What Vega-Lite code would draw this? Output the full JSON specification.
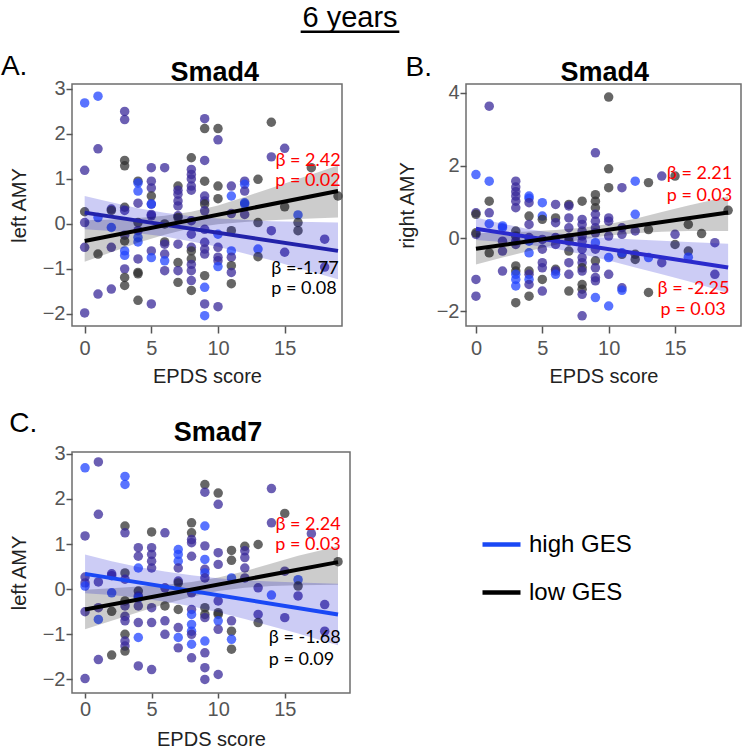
{
"$schema":"https://vega.github.io/schema/vega-lite/v6.json",
"padding":{"left":0,"top":3,"right":0,"bottom":0},
"background":"white",
"config":{"font":"Liberation Sans","view":{"stroke":"#6e6e6e","strokeWidth":1.5},
 "text":{"baseline":"alphabetic"},
 "axis":{"domain":false,"grid":false,"tickColor":"#555555","tickWidth":1.5,"labelFont":"Liberation Sans","labelFontSize":20,"labelColor":"#555555","titleFont":"Liberation Sans","titleFontSize":20,"titleFontWeight":"normal","titleColor":"#222222"}},
"datasets":{
"ann":[
{"p":"A","k":"t1","t":"β = 2.42"},{"p":"A","k":"t2","t":"p = 0.02"},{"p":"A","k":"t3","t":"β =-1.77"},{"p":"A","k":"t4","t":"p = 0.08"},{"p":"A","k":"lab","t":"A."},{"p":"A","k":"head","t":"6 years"},{"p":"A","k":"ttl","t":"Smad4"},
{"p":"B","k":"t1","t":"β = 2.21"},{"p":"B","k":"t2","t":"p = 0.03"},{"p":"B","k":"t3","t":"β = -2.25"},{"p":"B","k":"t4","t":"p = 0.03"},{"p":"B","k":"lab","t":"B."},{"p":"B","k":"ttl","t":"Smad4"},
{"p":"C","k":"t1","t":"β = 2.24"},{"p":"C","k":"t2","t":"p = 0.03"},{"p":"C","k":"t3","t":"β = -1.68"},{"p":"C","k":"t4","t":"p = 0.09"},{"p":"C","k":"lab","t":"C."},{"p":"C","k":"ttl","t":"Smad7"}
],
"pA":[
{"x":0,"y":2.69,"g":"h"},{"x":0,"y":1.19,"g":"b"},{"x":0,"y":0.27,"g":"l"},{"x":0,"y":0.03,"g":"b"},{"x":0,"y":-0.52,"g":"b"},{"x":0,"y":-1.98,"g":"b"},
{"x":1,"y":2.84,"g":"h"},{"x":1,"y":1.67,"g":"b"},{"x":1,"y":0.14,"g":"h"},{"x":1,"y":-0.67,"g":"l"},{"x":1,"y":-1.56,"g":"b"},
{"x":2,"y":0.33,"g":"b"},{"x":2,"y":0.3,"g":"l"},{"x":2,"y":-0.08,"g":"h"},{"x":2,"y":-0.52,"g":"b"},{"x":2,"y":-1.45,"g":"b"},
{"x":3,"y":2.5,"g":"b"},{"x":3,"y":2.32,"g":"b"},{"x":3,"y":1.41,"g":"l"},{"x":3,"y":1.29,"g":"l"},{"x":3,"y":0.37,"g":"l"},{"x":3,"y":0.3,"g":"b"},{"x":3,"y":-0.25,"g":"b"},{"x":3,"y":-0.38,"g":"l"},{"x":3,"y":-0.6,"g":"h"},{"x":3,"y":-0.7,"g":"h"},{"x":3,"y":-1.0,"g":"b"},{"x":3,"y":-1.19,"g":"l"},{"x":3,"y":-1.37,"g":"l"},
{"x":4,"y":0.95,"g":"l"},{"x":4,"y":0.91,"g":"h"},{"x":4,"y":0.73,"g":"h"},{"x":4,"y":0.46,"g":"b"},{"x":4,"y":0.03,"g":"l"},{"x":4,"y":-0.15,"g":"b"},{"x":4,"y":-0.3,"g":"h"},{"x":4,"y":-0.4,"g":"h"},{"x":4,"y":-0.78,"g":"b"},{"x":4,"y":-1.08,"g":"l"},{"x":4,"y":-1.11,"g":"l"},{"x":4,"y":-1.7,"g":"l"},
{"x":5,"y":1.25,"g":"b"},{"x":5,"y":0.95,"g":"b"},{"x":5,"y":0.8,"g":"b"},{"x":5,"y":0.62,"g":"l"},{"x":5,"y":0.44,"g":"b"},{"x":5,"y":0.44,"g":"h"},{"x":5,"y":0.21,"g":"b"},{"x":5,"y":0.18,"g":"b"},{"x":5,"y":-0.6,"g":"b"},{"x":5,"y":-0.75,"g":"h"},{"x":5,"y":-1.78,"g":"b"},
{"x":6,"y":1.25,"g":"b"},{"x":6,"y":0.0,"g":"l"},{"x":6,"y":-0.4,"g":"l"},{"x":6,"y":-0.45,"g":"b"},{"x":6,"y":-0.67,"g":"b"},{"x":6,"y":-0.82,"g":"h"},{"x":6,"y":-1.04,"g":"b"},
{"x":7,"y":0.84,"g":"l"},{"x":7,"y":0.75,"g":"b"},{"x":7,"y":0.66,"g":"b"},{"x":7,"y":0.51,"g":"b"},{"x":7,"y":0.4,"g":"b"},{"x":7,"y":0.18,"g":"b"},{"x":7,"y":0.14,"g":"l"},{"x":7,"y":-0.45,"g":"b"},{"x":7,"y":-0.86,"g":"l"},{"x":7,"y":-1.04,"g":"b"},{"x":7,"y":-1.3,"g":"l"},
{"x":8,"y":1.47,"g":"l"},{"x":8,"y":1.21,"g":"b"},{"x":8,"y":1.1,"g":"b"},{"x":8,"y":1.0,"g":"b"},{"x":8,"y":0.84,"g":"b"},{"x":8,"y":0.75,"g":"b"},{"x":8,"y":0.07,"g":"b"},{"x":8,"y":-0.23,"g":"b"},{"x":8,"y":-0.52,"g":"b"},{"x":8,"y":-0.6,"g":"l"},{"x":8,"y":-0.78,"g":"l"},{"x":8,"y":-0.9,"g":"b"},{"x":8,"y":-1.04,"g":"b"},{"x":8,"y":-1.26,"g":"b"},{"x":8,"y":-1.48,"g":"l"},
{"x":9,"y":2.34,"g":"b"},{"x":9,"y":2.12,"g":"l"},{"x":9,"y":1.41,"g":"b"},{"x":9,"y":0.95,"g":"l"},{"x":9,"y":0.62,"g":"b"},{"x":9,"y":0.51,"g":"b"},{"x":9,"y":0.44,"g":"l"},{"x":9,"y":0.29,"g":"b"},{"x":9,"y":-0.12,"g":"b"},{"x":9,"y":-0.41,"g":"b"},{"x":9,"y":-0.56,"g":"b"},{"x":9,"y":-0.67,"g":"b"},{"x":9,"y":-1.15,"g":"l"},{"x":9,"y":-1.41,"g":"h"},{"x":9,"y":-1.78,"g":"b"},{"x":9,"y":-2.04,"g":"h"},
{"x":10,"y":2.12,"g":"l"},{"x":10,"y":1.87,"g":"b"},{"x":10,"y":0.84,"g":"l"},{"x":10,"y":0.56,"g":"l"},{"x":10,"y":-0.23,"g":"h"},{"x":10,"y":-0.52,"g":"b"},{"x":10,"y":-0.74,"g":"b"},{"x":10,"y":-0.82,"g":"b"},{"x":10,"y":-0.95,"g":"h"},{"x":10,"y":-1.84,"g":"b"},
{"x":11,"y":0.84,"g":"b"},{"x":11,"y":0.62,"g":"h"},{"x":11,"y":0.23,"g":"b"},{"x":11,"y":-0.15,"g":"l"},{"x":11,"y":-0.6,"g":"h"},{"x":11,"y":-0.74,"g":"b"},{"x":11,"y":-0.93,"g":"l"},{"x":11,"y":-1.08,"g":"b"},{"x":11,"y":-1.33,"g":"l"},
{"x":12,"y":0.95,"g":"b"},{"x":12,"y":0.88,"g":"h"},{"x":12,"y":0.73,"g":"b"},{"x":12,"y":0.47,"g":"h"},{"x":12,"y":0.44,"g":"h"},{"x":12,"y":0.21,"g":"b"},
{"x":13,"y":0.99,"g":"l"},{"x":13,"y":0.03,"g":"l"},{"x":13,"y":-0.56,"g":"h"},{"x":13,"y":-0.73,"g":"l"},
{"x":14,"y":2.26,"g":"l"},{"x":14,"y":1.49,"g":"b"},{"x":14,"y":-0.15,"g":"b"},
{"x":15,"y":1.68,"g":"b"},{"x":15,"y":0.38,"g":"l"},{"x":15,"y":-0.63,"g":"b"},
{"x":16,"y":0.2,"g":"h"},{"x":16,"y":0.03,"g":"l"},{"x":16,"y":-0.15,"g":"l"},
{"x":17,"y":1.25,"g":"l"},{"x":18,"y":-0.34,"g":"b"},{"x":18,"y":-0.96,"g":"b"},{"x":19,"y":0.62,"g":"l"}
],
"pB":[
{"x":0,"y":1.75,"g":"h"},{"x":0,"y":0.7,"g":"b"},{"x":0,"y":0.66,"g":"l"},{"x":0,"y":0.11,"g":"b"},{"x":0,"y":0.15,"g":"l"},{"x":0,"y":-1.13,"g":"b"},{"x":0,"y":-1.59,"g":"b"},
{"x":1,"y":3.63,"g":"b"},{"x":1,"y":1.57,"g":"h"},{"x":1,"y":1.02,"g":"l"},{"x":1,"y":0.7,"g":"b"},{"x":1,"y":0.4,"g":"h"},{"x":1,"y":-0.4,"g":"l"},
{"x":2,"y":0.34,"g":"h"},{"x":2,"y":0.29,"g":"h"},{"x":2,"y":-0.08,"g":"b"},{"x":2,"y":-0.35,"g":"b"},{"x":2,"y":-0.9,"g":"b"},
{"x":3,"y":1.57,"g":"b"},{"x":3,"y":1.41,"g":"b"},{"x":3,"y":1.28,"g":"b"},{"x":3,"y":1.16,"g":"b"},{"x":3,"y":1.02,"g":"b"},{"x":3,"y":0.84,"g":"b"},{"x":3,"y":0.2,"g":"l"},{"x":3,"y":0.06,"g":"l"},{"x":3,"y":-0.08,"g":"b"},{"x":3,"y":-0.17,"g":"b"},{"x":3,"y":-0.76,"g":"l"},{"x":3,"y":-0.9,"g":"l"},{"x":3,"y":-0.99,"g":"h"},{"x":3,"y":-1.13,"g":"h"},{"x":3,"y":-1.31,"g":"h"},{"x":3,"y":-1.77,"g":"l"},
{"x":4,"y":1.16,"g":"h"},{"x":4,"y":1.1,"g":"h"},{"x":4,"y":0.98,"g":"b"},{"x":4,"y":0.61,"g":"l"},{"x":4,"y":0.38,"g":"b"},{"x":4,"y":0.02,"g":"b"},{"x":4,"y":-0.08,"g":"h"},{"x":4,"y":-0.4,"g":"h"},{"x":4,"y":-0.9,"g":"l"},{"x":4,"y":-0.99,"g":"b"},{"x":4,"y":-1.13,"g":"h"},{"x":4,"y":-1.27,"g":"b"},{"x":4,"y":-1.59,"g":"l"},
{"x":5,"y":0.98,"g":"h"},{"x":5,"y":0.61,"g":"h"},{"x":5,"y":0.52,"g":"l"},{"x":5,"y":-0.03,"g":"b"},{"x":5,"y":-0.3,"g":"b"},{"x":5,"y":-0.67,"g":"b"},{"x":5,"y":-0.81,"g":"b"},{"x":5,"y":-1.13,"g":"l"},{"x":5,"y":-1.45,"g":"b"},
{"x":6,"y":0.93,"g":"b"},{"x":6,"y":0.56,"g":"l"},{"x":6,"y":0.43,"g":"b"},{"x":6,"y":0.02,"g":"b"},{"x":6,"y":-0.17,"g":"b"},{"x":6,"y":-0.85,"g":"l"},{"x":6,"y":-0.9,"g":"b"},{"x":6,"y":-0.99,"g":"h"},
{"x":7,"y":0.93,"g":"l"},{"x":7,"y":0.89,"g":"b"},{"x":7,"y":0.56,"g":"b"},{"x":7,"y":0.29,"g":"b"},{"x":7,"y":0.02,"g":"b"},{"x":7,"y":-0.08,"g":"l"},{"x":7,"y":-0.35,"g":"l"},{"x":7,"y":-0.67,"g":"b"},{"x":7,"y":-0.99,"g":"b"},{"x":7,"y":-1.45,"g":"l"},
{"x":8,"y":1.02,"g":"l"},{"x":8,"y":0.52,"g":"b"},{"x":8,"y":0.38,"g":"b"},{"x":8,"y":0.2,"g":"b"},{"x":8,"y":0.06,"g":"b"},{"x":8,"y":-0.08,"g":"b"},{"x":8,"y":-0.3,"g":"b"},{"x":8,"y":-0.53,"g":"b"},{"x":8,"y":-0.67,"g":"b"},{"x":8,"y":-0.81,"g":"l"},{"x":8,"y":-0.9,"g":"b"},{"x":8,"y":-1.27,"g":"l"},{"x":8,"y":-1.4,"g":"l"},{"x":8,"y":-1.54,"g":"b"},{"x":8,"y":-2.13,"g":"b"},
{"x":9,"y":2.35,"g":"b"},{"x":9,"y":1.2,"g":"l"},{"x":9,"y":1.02,"g":"l"},{"x":9,"y":0.84,"g":"l"},{"x":9,"y":0.66,"g":"b"},{"x":9,"y":0.47,"g":"b"},{"x":9,"y":0.29,"g":"b"},{"x":9,"y":0.15,"g":"b"},{"x":9,"y":-0.12,"g":"h"},{"x":9,"y":-0.3,"g":"b"},{"x":9,"y":-0.62,"g":"l"},{"x":9,"y":-0.81,"g":"b"},{"x":9,"y":-1.08,"g":"b"},{"x":9,"y":-1.17,"g":"b"},{"x":9,"y":-1.63,"g":"h"},
{"x":10,"y":3.88,"g":"l"},{"x":10,"y":1.91,"g":"l"},{"x":10,"y":1.39,"g":"l"},{"x":10,"y":0.56,"g":"b"},{"x":10,"y":0.47,"g":"b"},{"x":10,"y":0.06,"g":"b"},{"x":10,"y":-0.53,"g":"h"},{"x":10,"y":-0.99,"g":"b"},{"x":10,"y":-1.86,"g":"h"},
{"x":11,"y":1.39,"g":"b"},{"x":11,"y":0.29,"g":"b"},{"x":11,"y":0.11,"g":"b"},{"x":11,"y":-0.44,"g":"l"},{"x":11,"y":-0.4,"g":"h"},{"x":11,"y":-1.36,"g":"b"},{"x":11,"y":-1.43,"g":"h"},
{"x":12,"y":1.57,"g":"h"},{"x":12,"y":0.66,"g":"h"},{"x":12,"y":0.2,"g":"b"},{"x":12,"y":-0.44,"g":"l"},{"x":12,"y":-0.58,"g":"l"},
{"x":13,"y":1.53,"g":"l"},{"x":13,"y":0.24,"g":"l"},{"x":13,"y":-0.53,"g":"h"},{"x":13,"y":-1.49,"g":"l"},
{"x":14,"y":1.71,"g":"b"},{"x":14,"y":-0.67,"g":"b"},
{"x":15,"y":1.71,"g":"l"},{"x":15,"y":0.11,"g":"b"},{"x":15,"y":-0.17,"g":"l"},
{"x":16,"y":0.38,"g":"l"},{"x":16,"y":-0.35,"g":"l"},{"x":16,"y":-0.52,"g":"h"},
{"x":17,"y":0.13,"g":"l"},{"x":18,"y":-0.12,"g":"b"},{"x":18,"y":-0.99,"g":"b"},{"x":19,"y":0.77,"g":"l"}
],
"pC":[
{"x":0,"y":2.69,"g":"h"},{"x":0,"y":1.18,"g":"b"},{"x":0,"y":0.27,"g":"b"},{"x":0,"y":0.14,"g":"b"},{"x":0,"y":0.07,"g":"h"},{"x":0,"y":-0.5,"g":"b"},{"x":0,"y":-1.98,"g":"b"},
{"x":1,"y":2.82,"g":"b"},{"x":1,"y":1.66,"g":"b"},{"x":1,"y":0.16,"g":"b"},{"x":1,"y":-0.41,"g":"b"},{"x":1,"y":-0.67,"g":"h"},{"x":1,"y":-1.56,"g":"b"},
{"x":2,"y":0.34,"g":"b"},{"x":2,"y":0.3,"g":"b"},{"x":2,"y":-0.08,"g":"h"},{"x":2,"y":-0.49,"g":"l"},{"x":2,"y":-1.46,"g":"l"},
{"x":3,"y":2.5,"g":"h"},{"x":3,"y":2.32,"g":"h"},{"x":3,"y":1.4,"g":"l"},{"x":3,"y":1.25,"g":"b"},{"x":3,"y":0.36,"g":"l"},{"x":3,"y":0.22,"g":"b"},{"x":3,"y":-0.26,"g":"l"},{"x":3,"y":-0.37,"g":"b"},{"x":3,"y":-0.6,"g":"b"},{"x":3,"y":-0.7,"g":"b"},{"x":3,"y":-1.0,"g":"l"},{"x":3,"y":-1.15,"g":"b"},{"x":3,"y":-1.26,"g":"b"},{"x":3,"y":-1.37,"g":"l"},
{"x":4,"y":0.92,"g":"b"},{"x":4,"y":0.73,"g":"b"},{"x":4,"y":0.47,"g":"h"},{"x":4,"y":-0.04,"g":"l"},{"x":4,"y":-0.15,"g":"b"},{"x":4,"y":-0.19,"g":"h"},{"x":4,"y":-0.37,"g":"b"},{"x":4,"y":-0.74,"g":"b"},{"x":4,"y":-1.07,"g":"h"},{"x":4,"y":-1.7,"g":"b"},
{"x":5,"y":1.27,"g":"l"},{"x":5,"y":0.92,"g":"b"},{"x":5,"y":0.77,"g":"b"},{"x":5,"y":0.62,"g":"b"},{"x":5,"y":0.47,"g":"b"},{"x":5,"y":-0.41,"g":"b"},{"x":5,"y":-0.74,"g":"b"},{"x":5,"y":-1.78,"g":"b"},
{"x":6,"y":1.25,"g":"b"},{"x":6,"y":0.03,"g":"b"},{"x":6,"y":-0.37,"g":"l"},{"x":6,"y":-0.7,"g":"b"},{"x":6,"y":-1.0,"g":"b"},
{"x":7,"y":0.88,"g":"h"},{"x":7,"y":0.77,"g":"h"},{"x":7,"y":0.62,"g":"h"},{"x":7,"y":0.47,"g":"b"},{"x":7,"y":0.18,"g":"b"},{"x":7,"y":0.14,"g":"l"},{"x":7,"y":-0.45,"g":"l"},{"x":7,"y":-0.85,"g":"b"},{"x":7,"y":-1.07,"g":"h"},{"x":7,"y":-1.3,"g":"b"},
{"x":8,"y":1.47,"g":"l"},{"x":8,"y":1.25,"g":"l"},{"x":8,"y":1.1,"g":"b"},{"x":8,"y":1.03,"g":"b"},{"x":8,"y":0.73,"g":"b"},{"x":8,"y":-0.08,"g":"b"},{"x":8,"y":-0.45,"g":"b"},{"x":8,"y":-0.56,"g":"h"},{"x":8,"y":-0.78,"g":"h"},{"x":8,"y":-0.93,"g":"h"},{"x":8,"y":-1.0,"g":"b"},{"x":8,"y":-1.22,"g":"h"},{"x":8,"y":-1.52,"g":"b"},
{"x":9,"y":2.32,"g":"l"},{"x":9,"y":2.15,"g":"b"},{"x":9,"y":1.4,"g":"h"},{"x":9,"y":0.96,"g":"b"},{"x":9,"y":0.66,"g":"h"},{"x":9,"y":0.44,"g":"b"},{"x":9,"y":0.36,"g":"h"},{"x":9,"y":0.25,"g":"b"},{"x":9,"y":-0.41,"g":"l"},{"x":9,"y":-0.56,"g":"l"},{"x":9,"y":-0.63,"g":"b"},{"x":9,"y":-1.15,"g":"h"},{"x":9,"y":-1.41,"g":"b"},{"x":9,"y":-1.74,"g":"b"},{"x":9,"y":-2.0,"g":"b"},
{"x":10,"y":2.13,"g":"l"},{"x":10,"y":1.88,"g":"b"},{"x":10,"y":0.81,"g":"b"},{"x":10,"y":0.55,"g":"b"},{"x":10,"y":-0.26,"g":"b"},{"x":10,"y":-0.52,"g":"l"},{"x":10,"y":-0.56,"g":"l"},{"x":10,"y":-0.7,"g":"h"},{"x":10,"y":-0.89,"g":"b"},{"x":10,"y":-1.89,"g":"b"},
{"x":11,"y":0.86,"g":"l"},{"x":11,"y":0.64,"g":"l"},{"x":11,"y":0.25,"g":"h"},{"x":11,"y":-0.7,"g":"b"},{"x":11,"y":-0.93,"g":"l"},{"x":11,"y":-1.11,"g":"h"},{"x":11,"y":-1.33,"g":"l"},
{"x":12,"y":0.95,"g":"l"},{"x":12,"y":0.85,"g":"b"},{"x":12,"y":0.7,"g":"b"},{"x":12,"y":0.47,"g":"b"},{"x":12,"y":0.25,"g":"b"},
{"x":13,"y":0.99,"g":"l"},{"x":13,"y":0.03,"g":"b"},{"x":13,"y":-0.56,"g":"b"},{"x":13,"y":-0.74,"g":"l"},
{"x":14,"y":2.23,"g":"b"},{"x":14,"y":1.47,"g":"b"},{"x":14,"y":-0.13,"g":"h"},
{"x":15,"y":1.68,"g":"l"},{"x":15,"y":0.4,"g":"b"},{"x":15,"y":-0.63,"g":"b"},
{"x":16,"y":0.21,"g":"h"},{"x":16,"y":0.07,"g":"l"},{"x":16,"y":-0.15,"g":"b"},
{"x":17,"y":1.23,"g":"b"},{"x":18,"y":-0.34,"g":"b"},{"x":18,"y":-0.93,"g":"b"},{"x":19,"y":0.61,"g":"l"}
],
"bands":[
{"p":"A","grp":"low GES","x":0,"lo":-0.84,"hi":0.08},{"p":"A","grp":"low GES","x":2,"lo":-0.63,"hi":0.1},{"p":"A","grp":"low GES","x":4,"lo":-0.42,"hi":0.13},{"p":"A","grp":"low GES","x":6,"lo":-0.24,"hi":0.18},{"p":"A","grp":"low GES","x":8,"lo":-0.09,"hi":0.27},{"p":"A","grp":"low GES","x":10,"lo":-0.01,"hi":0.41},{"p":"A","grp":"low GES","x":12,"lo":0.04,"hi":0.6},{"p":"A","grp":"low GES","x":14,"lo":0.08,"hi":0.8},{"p":"A","grp":"low GES","x":16,"lo":0.11,"hi":1.0},{"p":"A","grp":"low GES","x":19,"lo":0.14,"hi":1.3},
{"p":"A","grp":"high GES","x":0,"lo":-0.12,"hi":0.62},{"p":"A","grp":"high GES","x":2,"lo":-0.16,"hi":0.48},{"p":"A","grp":"high GES","x":4,"lo":-0.21,"hi":0.35},{"p":"A","grp":"high GES","x":6,"lo":-0.28,"hi":0.25},{"p":"A","grp":"high GES","x":8,"lo":-0.39,"hi":0.17},{"p":"A","grp":"high GES","x":10,"lo":-0.51,"hi":0.12},{"p":"A","grp":"high GES","x":12,"lo":-0.66,"hi":0.09},{"p":"A","grp":"high GES","x":14,"lo":-0.81,"hi":0.06},{"p":"A","grp":"high GES","x":16,"lo":-0.98,"hi":0.05},{"p":"A","grp":"high GES","x":19,"lo":-1.23,"hi":0.03},
{"p":"B","grp":"low GES","x":0,"lo":-0.72,"hi":0.14},{"p":"B","grp":"low GES","x":2,"lo":-0.53,"hi":0.16},{"p":"B","grp":"low GES","x":4,"lo":-0.35,"hi":0.19},{"p":"B","grp":"low GES","x":6,"lo":-0.18,"hi":0.23},{"p":"B","grp":"low GES","x":8,"lo":-0.03,"hi":0.29},{"p":"B","grp":"low GES","x":10,"lo":0.08,"hi":0.39},{"p":"B","grp":"low GES","x":12,"lo":0.14,"hi":0.54},{"p":"B","grp":"low GES","x":14,"lo":0.18,"hi":0.72},{"p":"B","grp":"low GES","x":16,"lo":0.2,"hi":0.9},{"p":"B","grp":"low GES","x":19,"lo":0.2,"hi":1.15},
{"p":"B","grp":"high GES","x":0,"lo":-0.05,"hi":0.57},{"p":"B","grp":"high GES","x":2,"lo":-0.1,"hi":0.4},{"p":"B","grp":"high GES","x":4,"lo":-0.18,"hi":0.25},{"p":"B","grp":"high GES","x":6,"lo":-0.29,"hi":0.14},{"p":"B","grp":"high GES","x":8,"lo":-0.44,"hi":0.06},{"p":"B","grp":"high GES","x":10,"lo":-0.61,"hi":0.01},{"p":"B","grp":"high GES","x":12,"lo":-0.8,"hi":-0.03},{"p":"B","grp":"high GES","x":14,"lo":-0.99,"hi":-0.07},{"p":"B","grp":"high GES","x":16,"lo":-1.18,"hi":-0.1},{"p":"B","grp":"high GES","x":19,"lo":-1.5,"hi":-0.15},
{"p":"C","grp":"low GES","x":0,"lo":-0.89,"hi":-0.01},{"p":"C","grp":"low GES","x":2,"lo":-0.7,"hi":0.02},{"p":"C","grp":"low GES","x":4,"lo":-0.51,"hi":0.06},{"p":"C","grp":"low GES","x":6,"lo":-0.33,"hi":0.1},{"p":"C","grp":"low GES","x":8,"lo":-0.17,"hi":0.16},{"p":"C","grp":"low GES","x":10,"lo":-0.04,"hi":0.26},{"p":"C","grp":"low GES","x":12,"lo":0.03,"hi":0.4},{"p":"C","grp":"low GES","x":14,"lo":0.07,"hi":0.57},{"p":"C","grp":"low GES","x":16,"lo":0.09,"hi":0.74},{"p":"C","grp":"low GES","x":19,"lo":0.1,"hi":0.95},
{"p":"C","grp":"high GES","x":0,"lo":-0.09,"hi":0.77},{"p":"C","grp":"high GES","x":2,"lo":-0.13,"hi":0.62},{"p":"C","grp":"high GES","x":4,"lo":-0.19,"hi":0.49},{"p":"C","grp":"high GES","x":6,"lo":-0.28,"hi":0.39},{"p":"C","grp":"high GES","x":8,"lo":-0.38,"hi":0.31},{"p":"C","grp":"high GES","x":10,"lo":-0.51,"hi":0.24},{"p":"C","grp":"high GES","x":12,"lo":-0.66,"hi":0.2},{"p":"C","grp":"high GES","x":14,"lo":-0.82,"hi":0.17},{"p":"C","grp":"high GES","x":16,"lo":-0.98,"hi":0.15},{"p":"C","grp":"high GES","x":19,"lo":-1.24,"hi":0.12}
],
"lines":[
{"p":"A","grp":"high GES","x":0,"y":0.25},{"p":"A","grp":"high GES","x":19,"y":-0.6},{"p":"A","grp":"low GES","x":0,"y":-0.38},{"p":"A","grp":"low GES","x":19,"y":0.73},
{"p":"B","grp":"high GES","x":0,"y":0.26},{"p":"B","grp":"high GES","x":19,"y":-0.8},{"p":"B","grp":"low GES","x":0,"y":-0.29},{"p":"B","grp":"low GES","x":19,"y":0.71},
{"p":"C","grp":"high GES","x":0,"y":0.34},{"p":"C","grp":"high GES","x":19,"y":-0.56},{"p":"C","grp":"low GES","x":0,"y":-0.45},{"p":"C","grp":"low GES","x":19,"y":0.6}
]
},
"columns":2,
"align":"each",
"bounds":"flush",
"spacing":{"row":126,"column":116},
"resolve":{"scale":{"fill":"independent","stroke":"independent"},"legend":{"stroke":"independent","fill":"independent"}},
"concat":[
{
 "width":270,"height":242,
 "layer":[
  {"data":{"name":"pA"},"mark":{"type":"circle","size":90,"opacity":0.75},"encoding":{
    "x":{"field":"x","type":"quantitative","scale":{"domain":[-0.95,19.3],"nice":false,"zero":false},"axis":{"values":[0,5,10,15],"tickSize":7,"labelPadding":5,"titlePadding":8},"title":"EPDS score"},
    "y":{"field":"y","type":"quantitative","scale":{"domain":[-2.27,3.11],"nice":false,"zero":false},"axis":{"values":[-2,-1,0,1,2,3],"tickSize":6,"labelPadding":1,"titlePadding":13},"title":"left AMY"},
    "fill":{"field":"g","type":"nominal","scale":{"domain":["h","b","l"],"range":["#2244ff","#3a2a99","#333333"]},"legend":null}}},
  {"data":{"name":"bands"},"transform":[{"filter":"datum.p=='A' && datum.grp=='low GES'"}],"mark":{"type":"area","opacity":0.2,"fill":"#000000"},"encoding":{"x":{"field":"x","type":"quantitative","title":"EPDS score"},"y":{"field":"lo","type":"quantitative","title":"left AMY"},"y2":{"field":"hi"}}},
  {"data":{"name":"bands"},"transform":[{"filter":"datum.p=='A' && datum.grp=='high GES'"}],"mark":{"type":"area","opacity":0.2,"fill":"#0000cc"},"encoding":{"x":{"field":"x","type":"quantitative","title":"EPDS score"},"y":{"field":"lo","type":"quantitative","title":"left AMY"},"y2":{"field":"hi"}}},
  {"data":{"name":"lines"},"transform":[{"filter":"datum.p=='A'"}],"mark":{"type":"line","strokeWidth":4},"encoding":{"x":{"field":"x","type":"quantitative","title":"EPDS score"},"y":{"field":"y","type":"quantitative","title":"left AMY"},"stroke":{"field":"grp","type":"nominal","scale":{"domain":["high GES","low GES"],"range":["#2222aa","#000000"]},"legend":null}}},
  {"data":{"name":"ann"},"transform":[{"filter":"datum.p=='A' && datum.k=='t1'"}],"mark":{"type":"text","align":"right","font":"Lato","fontSize":18,"fill":"#ff0000"},"encoding":{"x":{"datum":19.2},"y":{"datum":1.29},"text":{"field":"t"}}},
  {"data":{"name":"ann"},"transform":[{"filter":"datum.p=='A' && datum.k=='t2'"}],"mark":{"type":"text","align":"right","font":"Lato","fontSize":18,"fill":"#ff0000"},"encoding":{"x":{"datum":19.2},"y":{"datum":0.84},"text":{"field":"t"}}},
  {"data":{"name":"ann"},"transform":[{"filter":"datum.p=='A' && datum.k=='t3'"}],"mark":{"type":"text","align":"left","font":"Lato","fontSize":18,"fill":"#000000"},"encoding":{"x":{"datum":14.0},"y":{"datum":-1.12},"text":{"field":"t"}}},
  {"data":{"name":"ann"},"transform":[{"filter":"datum.p=='A' && datum.k=='t4'"}],"mark":{"type":"text","align":"left","font":"Lato","fontSize":18,"fill":"#000000"},"encoding":{"x":{"datum":14.0},"y":{"datum":-1.56},"text":{"field":"t"}}},
  {"data":{"name":"ann"},"transform":[{"filter":"datum.p=='A' && datum.k=='lab'"}],"mark":{"type":"text","align":"left","font":"Liberation Sans","fontSize":28,"fill":"#000000"},"encoding":{"x":{"datum":-6.28},"y":{"datum":3.3},"text":{"field":"t"}}},
  {"data":{"name":"ann"},"transform":[{"filter":"datum.p=='A' && datum.k=='ttl'"}],"mark":{"type":"text","align":"center","font":"Liberation Sans","fontSize":27,"fontWeight":"bold","fill":"#000000"},"encoding":{"x":{"datum":9.76},"y":{"datum":3.18},"text":{"field":"t"}}},
  {"data":{"name":"ann"},"transform":[{"filter":"datum.p=='A' && datum.k=='head'"}],"mark":{"type":"text","align":"center","font":"Liberation Sans","fontSize":29,"fill":"#000000"},"encoding":{"x":{"datum":19.9},"y":{"datum":4.373},"text":{"field":"t"}}},
  {"data":{"name":"ann"},"transform":[{"filter":"datum.p=='A' && datum.k=='head'"}],"mark":{"type":"rule","strokeWidth":2.5,"color":"#000000"},"encoding":{"x":{"datum":16.2},"x2":{"datum":23.6},"y":{"datum":4.27}}}
 ]
},
{
 "width":275,"height":242,
 "layer":[
  {"data":{"name":"pB"},"mark":{"type":"circle","size":90,"opacity":0.75},"encoding":{
    "x":{"field":"x","type":"quantitative","scale":{"domain":[-0.75,19.97],"nice":false,"zero":false},"axis":{"values":[0,5,10,15],"tickSize":7,"labelPadding":5,"titlePadding":8},"title":"EPDS score"},
    "y":{"field":"y","type":"quantitative","scale":{"domain":[-2.41,4.24],"nice":false,"zero":false},"axis":{"values":[-2,0,2,4],"tickSize":6,"labelPadding":1,"titlePadding":19},"title":"right AMY"},
    "fill":{"field":"g","type":"nominal","scale":{"domain":["h","b","l"],"range":["#2244ff","#3a2a99","#333333"]},"legend":null}}},
  {"data":{"name":"bands"},"transform":[{"filter":"datum.p=='B' && datum.grp=='low GES'"}],"mark":{"type":"area","opacity":0.2,"fill":"#000000"},"encoding":{"x":{"field":"x","type":"quantitative","title":"EPDS score"},"y":{"field":"lo","type":"quantitative","title":"right AMY"},"y2":{"field":"hi"}}},
  {"data":{"name":"bands"},"transform":[{"filter":"datum.p=='B' && datum.grp=='high GES'"}],"mark":{"type":"area","opacity":0.2,"fill":"#0000cc"},"encoding":{"x":{"field":"x","type":"quantitative","title":"EPDS score"},"y":{"field":"lo","type":"quantitative","title":"right AMY"},"y2":{"field":"hi"}}},
  {"data":{"name":"lines"},"transform":[{"filter":"datum.p=='B'"}],"mark":{"type":"line","strokeWidth":4},"encoding":{"x":{"field":"x","type":"quantitative","title":"EPDS score"},"y":{"field":"y","type":"quantitative","title":"right AMY"},"stroke":{"field":"grp","type":"nominal","scale":{"domain":["high GES","low GES"],"range":["#2a2acc","#000000"]},"legend":null}}},
  {"data":{"name":"ann"},"transform":[{"filter":"datum.p=='B' && datum.k=='t1'"}],"mark":{"type":"text","align":"right","font":"Lato","fontSize":18,"fill":"#ff0000"},"encoding":{"x":{"datum":19.3},"y":{"datum":1.63},"text":{"field":"t"}}},
  {"data":{"name":"ann"},"transform":[{"filter":"datum.p=='B' && datum.k=='t2'"}],"mark":{"type":"text","align":"right","font":"Lato","fontSize":18,"fill":"#ff0000"},"encoding":{"x":{"datum":19.3},"y":{"datum":1.02},"text":{"field":"t"}}},
  {"data":{"name":"ann"},"transform":[{"filter":"datum.p=='B' && datum.k=='t3'"}],"mark":{"type":"text","align":"right","font":"Lato","fontSize":18,"fill":"#ff0000"},"encoding":{"x":{"datum":19.1},"y":{"datum":-1.54},"text":{"field":"t"}}},
  {"data":{"name":"ann"},"transform":[{"filter":"datum.p=='B' && datum.k=='t4'"}],"mark":{"type":"text","align":"left","font":"Lato","fontSize":18,"fill":"#ff0000"},"encoding":{"x":{"datum":13.9},"y":{"datum":-2.11},"text":{"field":"t"}}},
  {"data":{"name":"ann"},"transform":[{"filter":"datum.p=='B' && datum.k=='lab'"}],"mark":{"type":"text","align":"left","font":"Liberation Sans","fontSize":28,"fill":"#000000"},"encoding":{"x":{"datum":-5.3},"y":{"datum":4.46},"text":{"field":"t"}}},
  {"data":{"name":"ann"},"transform":[{"filter":"datum.p=='B' && datum.k=='ttl'"}],"mark":{"type":"text","align":"center","font":"Liberation Sans","fontSize":27,"fontWeight":"bold","fill":"#000000"},"encoding":{"x":{"datum":9.71},"y":{"datum":4.32},"text":{"field":"t"}}}
 ]
},
{
 "width":278,"height":241,
 "layer":[
  {"data":{"name":"pC"},"mark":{"type":"circle","size":90,"opacity":0.75},"encoding":{
    "x":{"field":"x","type":"quantitative","scale":{"domain":[-0.98,19.9],"nice":false,"zero":false},"axis":{"values":[0,5,10,15],"tickSize":5,"labelPadding":1,"titlePadding":10},"title":"EPDS score"},
    "y":{"field":"y","type":"quantitative","scale":{"domain":[-2.3,3.04],"nice":false,"zero":false},"axis":{"values":[-2,-1,0,1,2,3],"tickSize":6,"labelPadding":1,"titlePadding":13},"title":"left AMY"},
    "fill":{"field":"g","type":"nominal","scale":{"domain":["h","b","l"],"range":["#2244ff","#3a2a99","#333333"]},"legend":null}}},
  {"data":{"name":"bands"},"transform":[{"filter":"datum.p=='C' && datum.grp=='low GES'"}],"mark":{"type":"area","opacity":0.2,"fill":"#000000"},"encoding":{"x":{"field":"x","type":"quantitative","title":"EPDS score"},"y":{"field":"lo","type":"quantitative","title":"left AMY"},"y2":{"field":"hi"}}},
  {"data":{"name":"bands"},"transform":[{"filter":"datum.p=='C' && datum.grp=='high GES'"}],"mark":{"type":"area","opacity":0.2,"fill":"#0000cc"},"encoding":{"x":{"field":"x","type":"quantitative","title":"EPDS score"},"y":{"field":"lo","type":"quantitative","title":"left AMY"},"y2":{"field":"hi"}}},
  {"data":{"name":"lines"},"transform":[{"filter":"datum.p=='C'"}],"mark":{"type":"line","strokeWidth":4},"encoding":{"x":{"field":"x","type":"quantitative","title":"EPDS score"},"y":{"field":"y","type":"quantitative","title":"left AMY"},"stroke":{"field":"grp","type":"nominal","scale":{"domain":["high GES","low GES"],"range":["#1a48f5","#000000"]},"legend":{"orient":"none","legendX":408,"legendY":71,"title":null,"symbolType":"stroke","symbolSize":1444,"symbolStrokeWidth":4.5,"labelFontSize":24,"labelFont":"Liberation Sans","labelColor":"#000000","labelOffset":6,"rowPadding":14}}}},
  {"data":{"name":"ann"},"transform":[{"filter":"datum.p=='C' && datum.k=='t1'"}],"mark":{"type":"text","align":"right","font":"Lato","fontSize":18,"fill":"#ff0000"},"encoding":{"x":{"datum":19.2},"y":{"datum":1.32},"text":{"field":"t"}}},
  {"data":{"name":"ann"},"transform":[{"filter":"datum.p=='C' && datum.k=='t2'"}],"mark":{"type":"text","align":"right","font":"Lato","fontSize":18,"fill":"#ff0000"},"encoding":{"x":{"datum":19.2},"y":{"datum":0.86},"text":{"field":"t"}}},
  {"data":{"name":"ann"},"transform":[{"filter":"datum.p=='C' && datum.k=='t3'"}],"mark":{"type":"text","align":"left","font":"Lato","fontSize":18,"fill":"#000000"},"encoding":{"x":{"datum":13.8},"y":{"datum":-1.19},"text":{"field":"t"}}},
  {"data":{"name":"ann"},"transform":[{"filter":"datum.p=='C' && datum.k=='t4'"}],"mark":{"type":"text","align":"left","font":"Lato","fontSize":18,"fill":"#000000"},"encoding":{"x":{"datum":13.8},"y":{"datum":-1.67},"text":{"field":"t"}}},
  {"data":{"name":"ann"},"transform":[{"filter":"datum.p=='C' && datum.k=='lab'"}],"mark":{"type":"text","align":"left","font":"Liberation Sans","fontSize":28,"fill":"#000000"},"encoding":{"x":{"datum":-5.7},"y":{"datum":3.49},"text":{"field":"t"}}},
  {"data":{"name":"ann"},"transform":[{"filter":"datum.p=='C' && datum.k=='ttl'"}],"mark":{"type":"text","align":"center","font":"Liberation Sans","fontSize":27,"fontWeight":"bold","fill":"#000000"},"encoding":{"x":{"datum":9.98},"y":{"datum":3.28},"text":{"field":"t"}}}
 ]
}
]
}
